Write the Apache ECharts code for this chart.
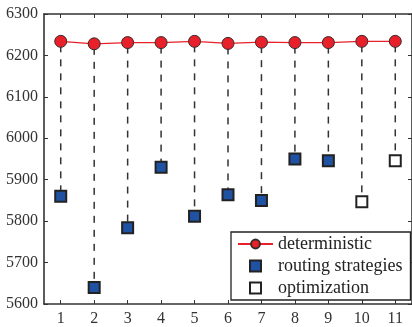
<!DOCTYPE html>
<html>
<head>
<meta charset="utf-8">
<script src="https://cdn.jsdelivr.net/npm/echarts@6/dist/echarts.min.js"></script>
<style>
  html, body { margin: 0; padding: 0; background: #fff; }
  #chart { width: 412px; height: 327px; }
</style>
</head>
<body>
<div id="chart"></div>
<script>
// Instance indices along the horizontal axis
const categories = ['1', '2', '3', '4', '5', '6', '7', '8', '9', '10', '11'];
// Objective value of the deterministic solution per instance
const deterministic = [6234, 6228, 6231, 6231, 6234, 6229, 6232, 6231, 6231, 6234, 6234];
// Objective value of the routing strategies (instances 1-9)
const routing = [5860, 5640, 5784, 5930, 5812, 5864, 5850, 5950, 5946, null, null];
// Objective value of the optimization (instances 10-11)
const optimization = [null, null, null, null, null, null, null, null, null, 5847, 5946];
// Value axis ticks
const yTicks = [5600, 5700, 5800, 5900, 6000, 6100, 6200, 6300];

const FONT = 'Liberation Serif';
const AXIS = '#333';

// Vertical connectors from each deterministic point down to its counterpart
const connectors = categories.map((c, i) => {
  const low = routing[i] != null ? routing[i] : optimization[i];
  return [i, low, deterministic[i]];
});

const chart = echarts.init(document.getElementById('chart'), null, { renderer: 'canvas' });

const tickCommon = { show: true, inside: true, length: 4, alignWithLabel: true, lineStyle: { color: AXIS, width: 1 } };

chart.setOption({
  animation: false,
  backgroundColor: '#fff',
  grid: { left: 44, top: 14, width: 371, height: 292, containLabel: false },
  xAxis: [
    {
      type: 'category', data: categories, position: 'bottom', boundaryGap: true,
      axisLine: { lineStyle: { color: AXIS, width: 1.6 } },
      axisTick: tickCommon,
      axisLabel: { color: '#333', fontFamily: FONT, fontSize: 16, margin: 7 },
      splitLine: { show: false }
    },
    {
      type: 'category', data: categories, position: 'top', boundaryGap: true,
      axisLine: { lineStyle: { color: AXIS, width: 1.6 } },
      axisTick: tickCommon,
      axisLabel: { show: false },
      splitLine: { show: false }
    }
  ],
  yAxis: [
    {
      type: 'value', min: yTicks[0], max: yTicks[yTicks.length - 1], interval: 100, position: 'left',
      axisLine: { show: true, lineStyle: { color: AXIS, width: 1.6 } },
      axisTick: { show: true, inside: true, length: 4, lineStyle: { color: AXIS, width: 1 } },
      axisLabel: { color: '#333', fontFamily: FONT, fontSize: 16, margin: 6, formatter: v => String(v) },
      splitLine: { show: false }
    },
    {
      type: 'value', min: yTicks[0], max: yTicks[yTicks.length - 1], interval: 100, position: 'right',
      axisLine: { show: true, lineStyle: { color: AXIS, width: 1.6 } },
      axisTick: { show: true, inside: true, length: 4, lineStyle: { color: AXIS, width: 1 } },
      axisLabel: { show: false },
      splitLine: { show: false }
    }
  ],
  legend: {
    orient: 'vertical',
    left: 231, top: 232,
    padding: [3, 8, 3, 6],
    itemGap: 4,
    itemWidth: 35, itemHeight: 11,
    borderColor: '#222', borderWidth: 1.3,
    backgroundColor: '#fff',
    textStyle: { fontFamily: FONT, fontSize: 18, color: '#222' },
    data: [
      { name: 'deterministic' },
      { name: 'routing strategies', icon: 'path://M0,0h10v10h-10z' },
      { name: 'optimization', icon: 'path://M0,0h10v10h-10z' }
    ]
  },
  series: [
    {
      type: 'custom',
      name: 'connectors',
      silent: true,
      z: 1,
      renderItem: function (params, api) {
        const p1 = api.coord([api.value(0), api.value(2)]);
        const p2 = api.coord([api.value(0), api.value(1)]);
        return {
          type: 'line',
          shape: { x1: p1[0], y1: p1[1], x2: p2[0], y2: p2[1] },
          style: { stroke: '#333', lineWidth: 1.5, lineDash: [7, 7], lineDashOffset: -4 }
        };
      },
      encode: { x: 0, y: [1, 2] },
      data: connectors
    },
    {
      type: 'line',
      name: 'deterministic',
      data: deterministic,
      symbol: 'circle',
      symbolSize: 12,
      z: 3,
      lineStyle: { color: '#e8202a', width: 1.4 },
      itemStyle: { color: '#e8202a', borderColor: '#3a2a2a', borderWidth: 1 }
    },
    {
      type: 'scatter',
      name: 'routing strategies',
      data: routing.map(v => v == null ? '-' : v),
      symbol: 'rect',
      symbolSize: 11,
      z: 3,
      itemStyle: { color: '#2052a4', borderColor: '#222', borderWidth: 2, opacity: 1 }
    },
    {
      type: 'scatter',
      name: 'optimization',
      data: optimization.map(v => v == null ? '-' : v),
      symbol: 'rect',
      symbolSize: 11,
      z: 3,
      itemStyle: { color: '#fff', borderColor: '#222', borderWidth: 2, opacity: 1 }
    }
  ]
});
</script>
</body>
</html>
